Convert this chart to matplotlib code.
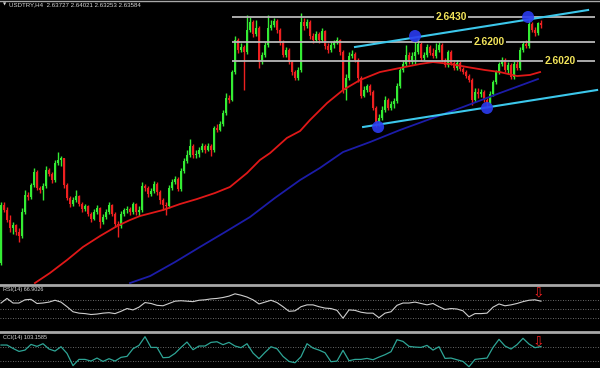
import matplotlib
matplotlib.use('Agg')
import matplotlib.pyplot as plt
import numpy as np
from matplotlib.lines import Line2D

# ---------------- data (USDTRY, H4) ----------------
first_open = 2.4142
closes = [2.4682, 2.4635, 2.4542, 2.4468, 2.4496, 2.4430, 2.4393, 2.4616, 2.4775, 2.4756,
          2.4868, 2.4988, 2.4840, 2.4821, 2.4858, 2.5007, 2.4970, 2.4914, 2.5072, 2.5100,
          2.5119, 2.4868, 2.4747, 2.4691, 2.4728, 2.4765, 2.4691, 2.4644, 2.4672, 2.4598,
          2.4551, 2.4616, 2.4654, 2.4523, 2.4570, 2.4616, 2.4682, 2.4598, 2.4505, 2.4486,
          2.4598, 2.4635, 2.4644, 2.4616, 2.4691, 2.4616, 2.4635, 2.4858, 2.4840, 2.4784,
          2.4812, 2.4877, 2.4802, 2.4728, 2.4682, 2.4672, 2.4840, 2.4895, 2.4923, 2.4830,
          2.4998, 2.5091, 2.5147, 2.5230, 2.5147, 2.5156, 2.5193, 2.5230, 2.5193, 2.5230,
          2.5193, 2.5398, 2.5379, 2.5435, 2.5537, 2.5677, 2.5658, 2.5918, 2.6216, 2.6123,
          2.6151, 2.6104, 2.6309, 2.6383, 2.6272, 2.6328, 2.6011, 2.6077, 2.6170, 2.6328,
          2.6356, 2.6393, 2.6309, 2.6197, 2.6077, 2.6123, 2.6011, 2.5918, 2.5863, 2.5937,
          2.6383, 2.6346, 2.6383, 2.6253, 2.6216, 2.6272, 2.6216, 2.6300, 2.6160, 2.6123,
          2.6170, 2.6197, 2.6216, 2.6104, 2.5751, 2.5863, 2.6067, 2.6086, 2.6030, 2.5863,
          2.5695, 2.5751, 2.5788, 2.5732, 2.5584, 2.5453, 2.5491, 2.5565, 2.5658, 2.5584,
          2.5621, 2.5649, 2.5788, 2.5937, 2.5993, 2.6077, 2.6011, 2.6067, 2.6104, 2.6179,
          2.6049, 2.6077, 2.6151, 2.6095, 2.6067, 2.6123, 2.6170, 2.6030, 2.5984, 2.6104,
          2.6002, 2.5956, 2.6002, 2.5946, 2.5918, 2.5881, 2.5844, 2.5658, 2.5732, 2.5714,
          2.5732, 2.5658, 2.5630, 2.5714, 2.5825, 2.5918, 2.5993, 2.6030, 2.5937, 2.5984,
          2.5872, 2.5993, 2.5956, 2.6123, 2.6179, 2.6160, 2.6365, 2.6309, 2.6281, 2.6373,
          2.6358]
highs = [2.4709, 2.4709, 2.4663, 2.4589, 2.4523, 2.4505, 2.4468, 2.4654, 2.4821, 2.4802,
         2.4886, 2.5026, 2.5007, 2.4858, 2.4886, 2.5044, 2.5026, 2.4988, 2.5100, 2.5174,
         2.5137, 2.5119, 2.4886, 2.4765, 2.4756, 2.4821, 2.4775, 2.4709, 2.4691, 2.4682,
         2.4616, 2.4644, 2.4682, 2.4663, 2.4598, 2.4644, 2.4709, 2.4691, 2.4616, 2.4533,
         2.4626, 2.4654, 2.4672, 2.4663, 2.4709, 2.4700, 2.4672, 2.4895, 2.4877, 2.4858,
         2.4840, 2.4905, 2.4895, 2.4821, 2.4747, 2.4709, 2.4868, 2.4923, 2.4951, 2.4942,
         2.5026, 2.5119, 2.5193, 2.5295, 2.5249, 2.5193, 2.5221, 2.5258, 2.5249, 2.5258,
         2.5249, 2.5416, 2.5435, 2.5463, 2.5565, 2.5723, 2.5705, 2.5937, 2.6253, 2.6235,
         2.6188, 2.6170, 2.6449, 2.6430, 2.6402, 2.6402, 2.6346, 2.6104, 2.6197, 2.6449,
         2.6402, 2.6421, 2.6411, 2.6328, 2.6216, 2.6151, 2.6142, 2.6030, 2.5937, 2.5965,
         2.6467, 2.6421, 2.6411, 2.6402, 2.6281, 2.6300, 2.6290, 2.6328, 2.6309, 2.6188,
         2.6197, 2.6216, 2.6244, 2.6225, 2.6123, 2.5900, 2.6104, 2.6123, 2.6104, 2.6049,
         2.5881, 2.5788, 2.5807, 2.5807, 2.5751, 2.5602, 2.5528, 2.5602, 2.5695, 2.5677,
         2.5649, 2.5677, 2.5816, 2.5965, 2.6030, 2.6170, 2.6104, 2.6104, 2.6216, 2.6235,
         2.6197, 2.6104, 2.6179, 2.6170, 2.6142, 2.6188, 2.6197, 2.6188, 2.6049, 2.6123,
         2.6123, 2.6030, 2.6030, 2.6021, 2.5965, 2.5937, 2.5900, 2.5863, 2.5770, 2.5770,
         2.5760, 2.5751, 2.5677, 2.5742, 2.5844, 2.5937, 2.6011, 2.6058, 2.6049, 2.6011,
         2.6002, 2.6021, 2.6030, 2.6151, 2.6207, 2.6216, 2.6430, 2.6383, 2.6337, 2.6383,
         2.6402]
lows = [2.4124, 2.4616, 2.4523, 2.4430, 2.4412, 2.4403, 2.4337, 2.4375, 2.4598, 2.4728,
        2.4737, 2.4849, 2.4821, 2.4793, 2.4728, 2.4840, 2.4951, 2.4886, 2.4895, 2.5054,
        2.5044, 2.4840, 2.4728, 2.4663, 2.4672, 2.4709, 2.4672, 2.4616, 2.4626, 2.4579,
        2.4523, 2.4542, 2.4598, 2.4468, 2.4505, 2.4551, 2.4598, 2.4579, 2.4477, 2.4384,
        2.4468, 2.4579, 2.4607, 2.4589, 2.4598, 2.4589, 2.4579, 2.4616, 2.4812, 2.4756,
        2.4765, 2.4793, 2.4775, 2.4691, 2.4635, 2.4589, 2.4654, 2.4821, 2.4877, 2.4812,
        2.4812, 2.4979, 2.5072, 2.5128, 2.5119, 2.5119, 2.5128, 2.5174, 2.5165, 2.5184,
        2.5137, 2.5174, 2.5360, 2.5370, 2.5416, 2.5519, 2.5630, 2.5649, 2.5900, 2.6095,
        2.6104, 2.5751, 2.6086, 2.6290, 2.6244, 2.6253, 2.5956, 2.5993, 2.6058, 2.6151,
        2.6309, 2.6337, 2.6281, 2.6170, 2.6058, 2.6058, 2.5993, 2.5891, 2.5844, 2.5844,
        2.5918, 2.6309, 2.6328, 2.6225, 2.6188, 2.6197, 2.6188, 2.6197, 2.6132, 2.6095,
        2.6104, 2.6142, 2.6179, 2.6077, 2.5723, 2.5658, 2.5844, 2.6049, 2.6011, 2.5825,
        2.5677, 2.5686, 2.5732, 2.5705, 2.5565, 2.5407, 2.5416, 2.5472, 2.5546, 2.5565,
        2.5565, 2.5584, 2.5630, 2.5770, 2.5918, 2.5974, 2.5993, 2.5993, 2.5993, 2.6086,
        2.6021, 2.6030, 2.6058, 2.6077, 2.6049, 2.6049, 2.6104, 2.6011, 2.5965, 2.5965,
        2.5984, 2.5937, 2.5937, 2.5928, 2.5900, 2.5863, 2.5825, 2.5612, 2.5639, 2.5677,
        2.5686, 2.5639, 2.5584, 2.5612, 2.5695, 2.5807, 2.5900, 2.5974, 2.5918, 2.5900,
        2.5853, 2.5853, 2.5937, 2.5937, 2.6104, 2.6142, 2.6142, 2.6290, 2.6253, 2.6263,
        2.6325]

# moving averages (bar position, price)
ma_red_bar = [11.3, 16.3, 22, 27.3, 33, 38.7, 43, 46.3, 54, 59.7, 65.3, 71.3, 76.3, 82,
              86.3, 89.7, 95.3, 99.7, 103, 108.7, 114, 119.7, 126.3, 133, 139.7, 144,
              149.7, 155.3, 161.3, 166.3, 172, 176.3, 179.7]
ma_red = [2.3956, 2.4049, 2.4170, 2.4291, 2.4393, 2.4486, 2.4542, 2.4579, 2.4635, 2.4691,
          2.4737, 2.4793, 2.4849, 2.4979, 2.5100, 2.5165, 2.5305, 2.5370, 2.5472, 2.5630,
          2.5751, 2.5844, 2.5918, 2.5956, 2.5993, 2.6011, 2.5993, 2.5965, 2.5937, 2.5918,
          2.5881, 2.5891, 2.5918]
ma_blue_bar = [43, 49.7, 58, 66.3, 74.7, 83, 91.3, 99.7, 106.3, 114, 123, 133, 143, 154,
               166.3, 179]
ma_blue = [2.3956, 2.4021, 2.4151, 2.4291, 2.4430, 2.4570, 2.4747, 2.4914, 2.5026, 2.5174,
           2.5267, 2.5379, 2.5481, 2.5593, 2.5723, 2.5853]

# horizontal levels
levels = [2.6430, 2.6200, 2.6020]
level_labels = ["2.6430", "2.6200", "2.6020"]
level_label_bar = [150.0, 162.7, 186.3]
level_start, level_end = 77, 198

# channel lines (bar, price)
chan_upper_bar = [118.0, 195.7]
chan_upper = [2.6151, 2.6495]
chan_lower_bar = [120.7, 198.7]
chan_lower = [2.5407, 2.5751]

# touch points
touch_bar = [125.7, 138.0, 162.0, 175.7]
touch_price = [2.5407, 2.6253, 2.5584, 2.6430]

# indicators, one value every 2 bars
rsi = [63, 73, 63, 63, 70, 71, 62, 63, 65, 69,
       65, 55, 44, 41, 40, 38, 39, 41, 42, 40,
       45, 51, 48, 54, 64, 62, 58, 57, 62, 67,
       68, 67, 66, 69, 70, 72, 73, 75, 78, 83,
       80, 76, 70, 61, 65, 69, 64, 55, 45, 46,
       55, 59, 59, 55, 52, 51, 47, 30, 48, 47,
       43, 41, 41, 31, 41, 44, 58, 63, 63, 65,
       62, 59, 62, 55, 49, 51, 50, 46, 33, 40,
       40, 41, 54, 61, 57, 59, 62, 66, 69, 70,
       67]
cci = [124, 124, 76, 33, 52, 133, 105, 143, 67, 38,
       100, 5, -170, -81, -81, -105, -62, -110, -71, -105,
       -52, -38, 71, 119, 243, 90, 90, -57, -52, 5,
       90, 167, 57, 110, 110, 162, 171, 129, 162, 110,
       86, 143, 10, -71, 19, 100, 71, -38, -110, -129,
       -43, 143, 81, 52, 14, -114, -105, 48, -100, -81,
       -81, -67, -86, -48, -14, 29, 200, 176, 105, 95,
       90, 119, 52, 100, -67, -62, -86, -110, -186, -81,
       -71, -62, 90, 205, 110, 67, 129, 220, 138, 86,
       103]
rsi_levels = [70, 50, 30]
cci_levels = [100, -100]
signal_bar = 179
signal_rsi = 85
signal_cci = 181

header = "USDTRY,H4  2.63727 2.64021 2.63253 2.63584"
rsi_label = "RSI(14) 66.9026"
cci_label = "CCI(14) 103.1585"

# ---------------- figure ----------------
W, H = 600, 368
fig = plt.figure(figsize=(W / 100, H / 100), dpi=100, facecolor='black')


def px_axes(top, bottom):
    a = fig.add_axes([0, 1 - bottom / H, 1, (bottom - top) / H])
    a.set_facecolor('black')
    a.axis('off')
    a.set_xlim(-1 / 3, 599 / 3)
    return a


ax = px_axes(0, 284)
ax.set_ylim(2.3947, 2.6588)
ax_rsi = px_axes(286, 332)
ax_rsi.set_ylim(0, 100)
ax_cci = px_axes(333, 368)
ax_cci.set_ylim(-204, 296)

c = np.array(closes)
o = np.r_[first_open, c[:-1]]
hi = np.array(highs)
lo = np.array(lows)
idx = np.arange(len(c))
cols = np.where(c >= o, '#34ec34', '#ee2020')

ax.vlines(idx, lo, hi, colors=cols, lw=1.0, zorder=2)
ax.bar(idx, np.maximum(np.abs(c - o), 0.0007), bottom=np.minimum(o, c), width=0.74,
       color=cols, linewidth=0, zorder=2)

ax.plot(ma_red_bar, ma_red, color='#e01818', lw=1.3, zorder=3)
ax.plot(ma_blue_bar, ma_blue, color='#1c1ca8', lw=1.3, zorder=3)

ax.hlines(levels, level_start, level_end, color='#b8b8b8', lw=1.3, zorder=3)
for lv, lb, xb in zip(levels, level_labels, level_label_bar):
    ax.text(xb, lv, lb, color='#f2e45a', fontsize=7.4, fontweight='bold',
            family='Liberation Sans', ha='center', va='center', zorder=7,
            bbox=dict(facecolor='black', edgecolor='none', pad=1.2))

ax.plot(chan_upper_bar, chan_upper, color='#3cc8ec', lw=1.5, zorder=4)
ax.plot(chan_lower_bar, chan_lower, color='#3cc8ec', lw=1.5, zorder=4)
ax.scatter(touch_bar, touch_price, s=75, color='#2b3cf0', alpha=0.9,
           edgecolors='none', zorder=5)

ind_bar = np.arange(0, 2 * len(rsi), 2)
for lv in rsi_levels:
    ax_rsi.axhline(lv, color='#8c8c8c', lw=0.6, ls=(0, (1, 2)))
ax_rsi.plot(ind_bar, rsi, color='#cfcfcf', lw=0.8)
ax_rsi.text(signal_bar, signal_rsi, '\u21e9', color='#ee2020', fontsize=10,
            ha='center', va='center', family='DejaVu Sans')

for lv in cci_levels:
    ax_cci.axhline(lv, color='#8c8c8c', lw=0.6, ls=(0, (1, 2)))
ax_cci.plot(ind_bar, cci, color='#2ea596', lw=0.9)
ax_cci.text(signal_bar, signal_cci, '\u21e9', color='#ee2020', fontsize=10,
            ha='center', va='center', family='DejaVu Sans')

# separators and labels
for ypx, lw in [(0.5, 1.0), (285, 2.0), (332, 2.0)]:
    fig.add_artist(Line2D([0, 1], [1 - ypx / H] * 2, transform=fig.transFigure,
                          color='#a8a8a8', lw=lw))
fig.text(3 / W, 1 - 5 / H, '\u25bc', color='#d8d8d8', fontsize=3, va='center')
fig.text(9 / W, 1 - 5 / H, header, color='#d8d8d8', fontsize=4.4,
         family='Liberation Sans', va='center')
fig.text(3 / W, 1 - 290 / H, rsi_label, color='#d8d8d8', fontsize=4.0,
         family='Liberation Sans', va='center')
fig.text(3 / W, 1 - 337 / H, cci_label, color='#d8d8d8', fontsize=4.0,
         family='Liberation Sans', va='center')

fig.savefig('out.png', dpi=100, facecolor='black')
